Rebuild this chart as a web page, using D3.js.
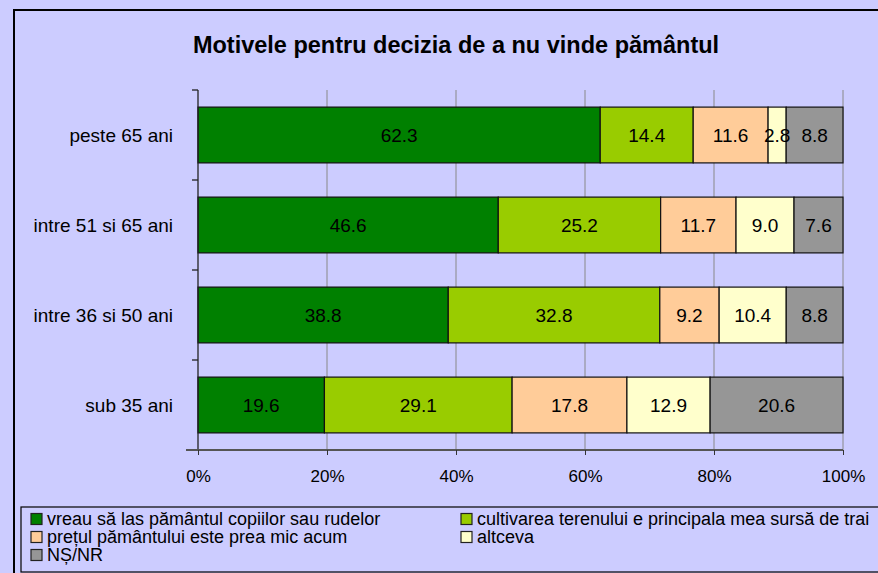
<!DOCTYPE html>
<html><head><meta charset="utf-8">
<script src="https://cdn.jsdelivr.net/npm/d3@7"></script>
<style>body{margin:0;background:#CCCCFF;}svg{display:block;font-family:"Liberation Sans",Arial,sans-serif;}</style>
</head><body>
<svg id="c" width="878" height="573"></svg>
<script>
const title = "Motivele pentru decizia de a nu vinde pământul";
const categories = ["peste 65 ani", "intre 51 si 65 ani", "intre 36 si 50 ani", "sub 35 ani"];
const seriesNames = ["vreau să las pământul copiilor sau rudelor", "cultivarea terenului e principala mea sursă de trai", "prețul pământului este prea mic acum", "altceva", "NȘ/NR"];
const seriesColors = ["#008000", "#99CC00", "#FFCC99", "#FFFFCC", "#969696"];
const vreau = [62.3, 46.6, 38.8, 19.6];
const cultivarea = [14.4, 25.2, 32.8, 29.1];
const pretul = [11.6, 11.7, 9.2, 17.8];
const altceva = [2.8, 9.0, 10.4, 12.9];
const nsnr = [8.8, 7.6, 8.8, 20.6];
const tickValues = [0, 0.2, 0.4, 0.6, 0.8, 1.0];

const series = [vreau, cultivarea, pretul, altceva, nsnr];
const svg = d3.select("#c");
const W = 878, H = 573;
const m = {left: 198, right: 843, top: 90, bottom: 450};

svg.append("rect").attr("x", 0).attr("y", 0).attr("width", W).attr("height", H).attr("fill", "#CCCCFF");
svg.append("rect").attr("x", 14).attr("y", 10).attr("width", 900).attr("height", 600)
  .attr("fill", "none").attr("stroke", "#000").attr("stroke-width", 2);

svg.append("text").attr("x", 456).attr("y", 53).attr("text-anchor", "middle")
  .attr("font-size", 23.5).attr("font-weight", "bold").attr("fill", "#000").text(title);

const x = d3.scaleLinear().domain([0, 1]).range([m.left, m.right]);
const y = d3.scaleBand().domain(categories).range([m.top, m.bottom]).paddingInner(0.38).paddingOuter(0.19);

// gridlines
svg.append("g").selectAll("line").data(tickValues.slice(1)).join("line")
  .attr("x1", d => x(d)).attr("x2", d => x(d)).attr("y1", m.top).attr("y2", m.bottom)
  .attr("stroke", "#888").attr("stroke-width", 1);

// stacked data
const rows = categories.map((c, i) => {
  const vals = series.map(s => s[i]);
  const tot = d3.sum(vals);
  let acc = 0;
  return vals.map((v, j) => {
    const seg = {cat: c, v, j, x0: acc / tot, x1: (acc + v) / tot};
    acc += v;
    return seg;
  });
}).flat();

const g = svg.append("g");
g.selectAll("rect").data(rows).join("rect")
  .attr("x", d => x(d.x0)).attr("width", d => x(d.x1) - x(d.x0))
  .attr("y", d => y(d.cat)).attr("height", y.bandwidth())
  .attr("fill", d => seriesColors[d.j]).attr("stroke", "#111").attr("stroke-width", 1.2);
g.selectAll("text").data(rows).join("text")
  .attr("x", d => (x(d.x0) + x(d.x1)) / 2).attr("y", d => y(d.cat) + y.bandwidth() / 2)
  .attr("dy", "0.36em").attr("text-anchor", "middle").attr("font-size", 19).attr("fill", "#000")
  .text(d => d3.format(".1f")(d.v));

// y axis
const bandEdges = d3.range(categories.length + 1).map(i => m.top + i * (m.bottom - m.top) / categories.length);
svg.append("line").attr("x1", m.left).attr("x2", m.left).attr("y1", m.top).attr("y2", m.bottom)
  .attr("stroke", "#222").attr("stroke-width", 1.3);
svg.append("g").selectAll("line").data(bandEdges).join("line")
  .attr("x1", m.left - 6).attr("x2", m.left).attr("y1", d => d).attr("y2", d => d)
  .attr("stroke", "#222").attr("stroke-width", 1.3);
svg.append("g").selectAll("text").data(categories).join("text")
  .attr("x", 173).attr("y", d => y(d) + y.bandwidth() / 2).attr("dy", "0.36em")
  .attr("text-anchor", "end").attr("font-size", 19).attr("fill", "#000").text(d => d);

// x axis
const xAxis = d3.axisBottom(x).tickValues(tickValues).tickFormat(d3.format(".0%")).tickSize(5).tickSizeOuter(0);
const xg = svg.append("g").attr("transform", `translate(0,${m.bottom})`).call(xAxis);
xg.select(".domain").attr("stroke", "#555").attr("stroke-width", 2).attr("d", `M${m.left - 12},0H${m.right}`);
xg.selectAll(".tick line").attr("stroke", "#333");
xg.selectAll(".tick text").attr("font-size", 17).attr("font-family", "Liberation Sans, Arial, sans-serif")
  .attr("fill", "#000").attr("y", 20).attr("dy", "0.71em");

// legend
svg.append("rect").attr("x", 21).attr("y", 507).attr("width", 900).attr("height", 65)
  .attr("fill", "none").attr("stroke", "#000").attr("stroke-width", 1.2);
const legPos = [[31, 519], [461, 519], [31, 537], [461, 537], [31, 555]];
const lg = svg.append("g").selectAll("g").data(seriesNames).join("g")
  .attr("transform", (d, i) => `translate(${legPos[i][0]},${legPos[i][1]})`);
lg.append("rect").attr("x", 0).attr("y", -5.5).attr("width", 11).attr("height", 11)
  .attr("fill", (d, i) => seriesColors[i]).attr("stroke", "#222").attr("stroke-width", 1.2);
lg.append("text").attr("x", 16).attr("dy", "0.36em").attr("font-size", 18).attr("fill", "#000").text(d => d);
</script>
</body></html>
